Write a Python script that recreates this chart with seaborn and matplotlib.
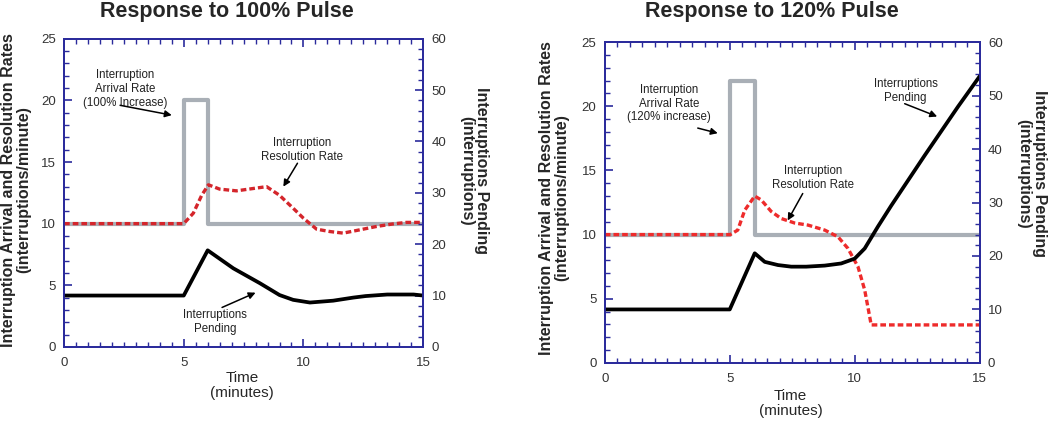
import numpy as np
import matplotlib
matplotlib.use('Agg')
import matplotlib.pyplot as plt
from matplotlib.ticker import MultipleLocator
import seaborn as sns

# ---- data ----
# arrival rate steps (steps-post)
arr_t = [0, 5, 6, 15]
arr_100 = [10, 20, 10, 10]
arr_120 = [10, 22, 10, 10]

# resolution rate, 100% pulse
res100_t = [0, 5.0, 5.4, 5.75, 6.03, 6.5, 7.2, 7.9, 8.46, 9.0, 9.57, 10.0,
            10.55, 11.1, 11.66, 12.36, 13.05, 13.75, 14.3, 15.0]
res100_v = [10, 10, 10.85, 12.3, 13.15, 12.8, 12.66, 12.85, 13.0, 12.3, 11.25,
            10.44, 9.55, 9.36, 9.23, 9.5, 9.77, 9.98, 10.1, 10.1]

# interruptions pending, 100% pulse
pend100_t = [0, 5.0, 6.0, 7.07, 8.18, 9.0, 9.57, 10.27, 11.24, 12.08, 12.6,
             13.5, 14.6, 15.0]
pend100_v = [10, 10, 18.8, 15.3, 12.4, 10.1, 9.16, 8.64, 9.0, 9.6, 9.9,
             10.2, 10.2, 10.0]

# resolution rate, 120% pulse
res120_t = [0, 5.02, 5.32, 5.6, 6.0, 6.26, 6.66, 7.06, 7.6, 8.13, 8.8, 9.33,
            9.73, 10.13, 10.4, 10.6, 10.66, 15.0]
res120_v = [10, 10, 10.35, 11.9, 13.0, 12.7, 11.8, 11.25, 10.9, 10.74, 10.35,
            9.83, 8.92, 7.5, 5.68, 3.6, 2.96, 2.96]

# interruptions pending, 120% pulse
pend120_t = [0, 5.0, 6.0, 6.4, 6.93, 7.46, 8.06, 8.8, 9.46, 10.0, 10.4,
             10.93, 11.46, 12.8, 14.13, 15.0]
pend120_v = [10, 10, 20.5, 18.9, 18.3, 18.0, 18.0, 18.2, 18.6, 19.5, 21.4,
             25.5, 29.4, 38.8, 47.9, 53.6]

titles = ['Response to 100% Pulse', 'Response to 120% Pulse']
arrival_text = ['Interruption\nArrival Rate\n(100% Increase)',
                'Interruption\nArrival Rate\n(120% increase)']

# ---- style ----
sns.set_style('white')
plt.rcParams['font.family'] = ['Liberation Sans', 'DejaVu Sans']

SPINE = '#2b2b9c'
GRAY = '#a9afb6'
RED1 = '#d4252b'
RED2 = '#ee2b2b'
TXT = '#333333'

fig = plt.figure(figsize=(10.5, 4.21), dpi=100)
ax_l = fig.add_axes([0.061, 0.176, 0.342, 0.732])
ax_r = fig.add_axes([0.576, 0.138, 0.357, 0.762])


def style_axes(ax, ax2):
    ax.set_xlim(0, 15)
    ax.set_ylim(0, 25)
    ax2.set_ylim(0, 60)
    ax.xaxis.set_major_locator(MultipleLocator(5))
    ax.xaxis.set_minor_locator(MultipleLocator(0.5))
    ax.yaxis.set_major_locator(MultipleLocator(5))
    ax.yaxis.set_minor_locator(MultipleLocator(1))
    ax2.yaxis.set_major_locator(MultipleLocator(10))
    ax2.yaxis.set_minor_locator(MultipleLocator(2))
    for a in (ax, ax2):
        for s in a.spines.values():
            s.set_color(SPINE)
            s.set_linewidth(1.3)
    ax.tick_params(axis='x', which='both', direction='in', top=True, bottom=True,
                   color=SPINE, labelcolor=TXT, labelsize=9.5, pad=7)
    ax.tick_params(axis='y', which='both', direction='in', left=True, right=False,
                   color=SPINE, labelcolor=TXT, labelsize=9.5, pad=6)
    ax2.tick_params(axis='y', which='both', direction='in', right=True, left=False,
                    color=SPINE, labelcolor=TXT, labelsize=9.5, pad=6)
    for a in (ax, ax2):
        a.tick_params(which='major', length=6, width=1.2)
        a.tick_params(which='minor', length=3.5, width=1.0)
    ax.set_xlabel('Time\n(minutes)', fontsize=11, linespacing=1.15)
    ax.set_ylabel('Interruption Arrival and Resolution Rates\n(interruptions/minute)',
                  fontsize=11.5, fontweight='bold', linespacing=1.05)
    ax2.set_ylabel('Interruptions Pending\n(interruptions)', fontsize=11.5,
                   fontweight='bold', rotation=270, linespacing=1.05)


panels = [
    (ax_l, arr_100, res100_t, res100_v, pend100_t, pend100_v, RED1),
    (ax_r, arr_120, res120_t, res120_v, pend120_t, pend120_v, RED2),
]

twins = []
for ax, arr, rt, rv, pt, pv, red in panels:
    ax2 = ax.twinx()
    twins.append(ax2)
    sns.lineplot(x=arr_t, y=arr, ax=ax, color=GRAY, linewidth=3.0,
                 drawstyle='steps-post', estimator=None, sort=False)
    sns.lineplot(x=rt, y=rv, ax=ax, color=red, linewidth=2.4,
                 dashes=False, estimator=None, sort=False, zorder=3)
    ax.lines[-1].set_linestyle((0, (1.7, 0.9)))
    sns.lineplot(x=pt, y=pv, ax=ax2, color='black', linewidth=2.7,
                 estimator=None, sort=False)
    style_axes(ax, ax2)

# label positions
ax_l.yaxis.set_label_coords(-0.133, 0.51)
ax_r.yaxis.set_label_coords(-0.136, 0.514)
twins[0].yaxis.set_label_coords(1.142, 0.571)
twins[1].yaxis.set_label_coords(1.139, 0.589)
ax_l.xaxis.set_label_coords(0.495, -0.125)
ax_r.xaxis.set_label_coords(0.496, -0.127)
for a in (ax_l, ax_r):
    a.xaxis.label.set_va('center')
    a.yaxis.label.set_va('center')
for a in twins:
    a.yaxis.label.set_va('center')

fig.text(227 / 1050, 1 - 11 / 421, titles[0], ha='center', va='center',
         fontsize=15.5, fontweight='bold')
fig.text(772 / 1050, 1 - 11 / 421, titles[1], ha='center', va='center',
         fontsize=15.5, fontweight='bold')

ann = dict(fontsize=8.3, ha='center', va='center', color='#222222',
           linespacing=1.2)
arrow = dict(arrowstyle='-|>', color='black', lw=1.1, mutation_scale=10,
             shrinkA=0, shrinkB=0)

# left panel annotations
ax_l.text(2.55, 20.9, arrival_text[0], **ann)
ax_l.annotate('', xy=(4.5, 18.8), xytext=(2.34, 19.6), arrowprops=arrow)
ax_l.text(9.96, 16.0, 'Interruption\nResolution Rate', **ann)
ax_l.annotate('', xy=(9.16, 13.0), xytext=(9.75, 14.9), arrowprops=arrow)
ax_l.text(6.32, 2.03, 'Interruptions\nPending', **ann)
ax_l.annotate('', xy=(8.0, 4.4), xytext=(6.6, 3.2), arrowprops=arrow)

# right panel annotations
ax_r.text(2.56, 20.2, arrival_text[1], **ann)
ax_r.annotate('', xy=(4.52, 17.9), xytext=(3.72, 18.3), arrowprops=arrow)
ax_r.text(8.32, 14.4, 'Interruption\nResolution Rate', **ann)
ax_r.annotate('', xy=(7.32, 11.1), xytext=(7.92, 13.2), arrowprops=arrow)
ax_r.text(12.04, 21.2, 'Interruptions\nPending', **ann)
ax_r.annotate('', xy=(13.3, 19.2), xytext=(12.0, 20.2), arrowprops=arrow)

fig.savefig('out.png', dpi=100)
